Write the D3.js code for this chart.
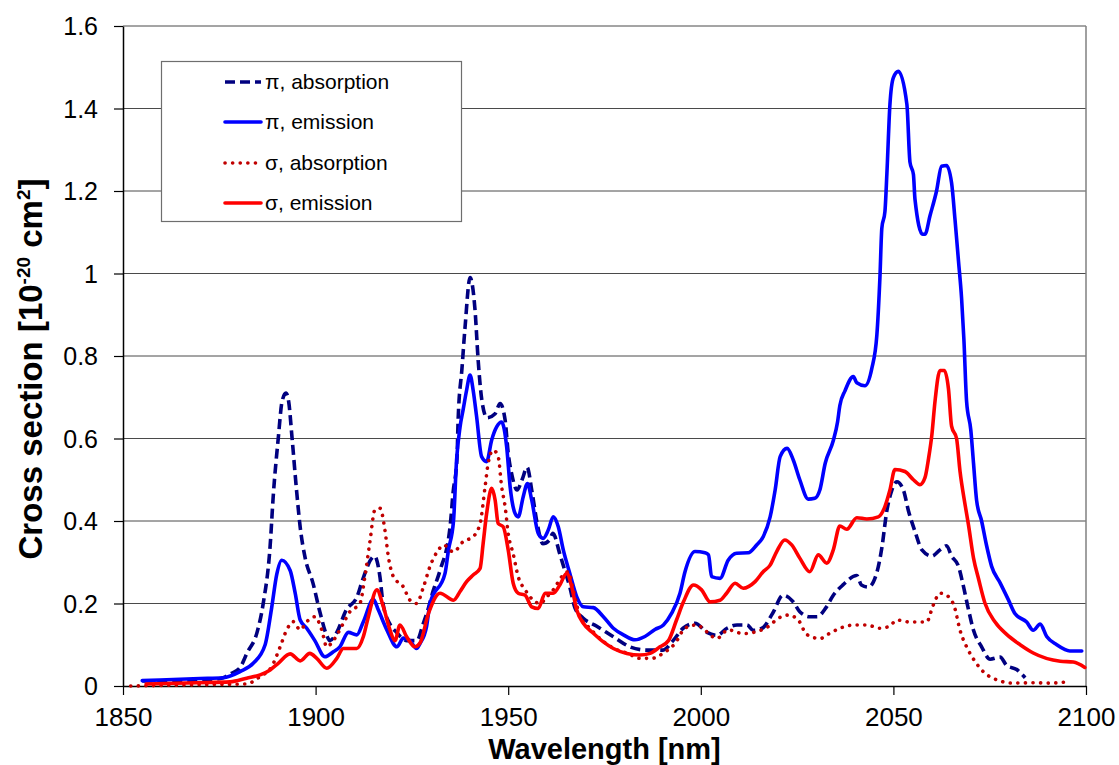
<!DOCTYPE html>
<html>
<head>
<meta charset="utf-8">
<script src="https://cdn.jsdelivr.net/npm/d3@7"></script>
<style>
  html, body { margin: 0; padding: 0; background: #fff; }
  svg { display: block; font-family: "Liberation Sans", Arial, sans-serif; }
</style>
</head>
<body>
<svg id="chart" width="1119" height="765"></svg>
<script>
// ---------- DATA ----------
const xTicks = [1850, 1900, 1950, 2000, 2050, 2100];
const yTicks = [0, 0.2, 0.4, 0.6, 0.8, 1.0, 1.2, 1.4, 1.6];
const yTickLabels = ["0", "0.2", "0.4", "0.6", "0.8", "1", "1.2", "1.4", "1.6"];
const seriesNames = ["\u03C0, absorption", "\u03C0, emission", "\u03C3, absorption", "\u03C3, emission"];

// pi absorption (dashed navy)
const piAbsX = [1855,1865,1872,1876,1878,1880.4,1882.2,1884.8,1886.4,1888.2,1889,1890.3,1891.3,1892.3,1893,1893.9,1895,1896,1897.3,1899.3,1901.1,1903,1903.7,1905.5,1908,1910.7,1912.3,1914.6,1915.3,1916.7,1917.5,1919.3,1921,1923.7,1926.3,1927.9,1929,1930.5,1932.3,1934.9,1935.7,1936.7,1937,1938,1938.8,1940.1,1941.4,1942.2,1943.2,1944.5,1946.6,1947.9,1949.2,1950,1951,1952.3,1953.6,1954.9,1956.2,1957.5,1959,1960.8,1961.6,1963.4,1964.7,1966,1967.3,1969.4,1973,1977.2,1981.6,1986,1990.2,1992.8,1995.4,1998.5,2001.6,2004.2,2006.8,2009.4,2012,2013.6,2015.9,2018.7,2021.3,2023.9,2025.7,2028.3,2030.2,2032.5,2034.4,2036.9,2040.5,2041.7,2043.5,2045.7,2047,2048.3,2049.6,2050.9,2052.6,2053.9,2055.6,2057.4,2060,2062.1,2063.8,2065.1,2066.9,2068.1,2069.5,2070.8,2072.9,2075.1,2077.7,2079.4,2082,2084.2];
const piAbsY = [0.012,0.013,0.015,0.02,0.03,0.045,0.08,0.13,0.20,0.34,0.46,0.60,0.69,0.71,0.69,0.60,0.48,0.385,0.31,0.25,0.18,0.12,0.11,0.13,0.185,0.215,0.26,0.31,0.315,0.265,0.20,0.15,0.13,0.11,0.11,0.15,0.18,0.23,0.28,0.385,0.47,0.55,0.645,0.77,0.87,0.99,0.91,0.79,0.69,0.65,0.66,0.685,0.645,0.565,0.51,0.475,0.50,0.53,0.47,0.395,0.345,0.355,0.37,0.32,0.28,0.24,0.19,0.165,0.145,0.12,0.095,0.087,0.087,0.11,0.14,0.152,0.13,0.123,0.14,0.148,0.148,0.135,0.14,0.177,0.22,0.205,0.18,0.168,0.168,0.19,0.22,0.245,0.268,0.245,0.24,0.275,0.335,0.425,0.475,0.495,0.475,0.425,0.375,0.33,0.315,0.33,0.34,0.315,0.29,0.245,0.185,0.135,0.095,0.065,0.07,0.05,0.04,0.02];

// pi emission (solid blue)
const piEmX = [1855,1870,1876,1880.4,1883.8,1886.9,1888.6,1889.9,1891.2,1893.4,1894.7,1896,1897.7,1899.8,1902.4,1904.6,1906.3,1908.5,1910.7,1912.4,1915,1916.3,1918.5,1921.1,1922.8,1924.5,1926.2,1927.1,1928.8,1929.7,1933.6,1934.5,1935.8,1936.6,1937.5,1938.3,1939.2,1940.1,1940.9,1941.8,1943.1,1944.4,1945.7,1947,1948.3,1949.6,1950.5,1951.8,1952.6,1953.9,1955,1956.1,1957.8,1959.1,1960.4,1961.7,1963,1964.3,1966,1967.8,1969.5,1972.1,1974.7,1977.3,1979.9,1982.9,1985.5,1988.1,1990.3,1992.4,1994.6,1995.9,1998.5,2001.1,2002,2002.8,2005,2007.1,2009.3,2012.3,2014.5,2016.2,2018,2019.3,2020.6,2022.4,2024,2025.7,2027.9,2029.6,2030.9,2032.3,2034.4,2035.5,2036.1,2037.4,2039.6,2040.5,2042.6,2044.4,2045.7,2046.5,2047,2047.8,2048.3,2049.1,2050,2051.3,2053.5,2054.3,2055.2,2055.6,2057.6,2058.2,2059.5,2061.2,2062.5,2063.8,2065.1,2066,2066.9,2067.7,2068.3,2069,2070.1,2070.8,2071.6,2072.9,2074.2,2075.5,2077.7,2079.8,2081.6,2084.6,2086.3,2088.1,2089.8,2092.4,2095.8,2098.9];
const piEmY = [0.013,0.018,0.02,0.035,0.055,0.10,0.19,0.27,0.305,0.28,0.225,0.16,0.14,0.11,0.071,0.083,0.095,0.13,0.124,0.156,0.21,0.184,0.136,0.095,0.116,0.11,0.091,0.103,0.144,0.20,0.273,0.33,0.40,0.548,0.628,0.67,0.717,0.754,0.717,0.653,0.556,0.544,0.596,0.628,0.64,0.58,0.483,0.418,0.41,0.459,0.491,0.451,0.37,0.358,0.378,0.41,0.386,0.33,0.273,0.216,0.192,0.19,0.168,0.14,0.124,0.112,0.12,0.137,0.148,0.176,0.225,0.277,0.326,0.323,0.318,0.265,0.261,0.305,0.322,0.323,0.342,0.362,0.41,0.475,0.556,0.576,0.548,0.50,0.453,0.455,0.475,0.54,0.595,0.64,0.68,0.715,0.75,0.735,0.728,0.77,0.85,0.99,1.11,1.15,1.24,1.41,1.475,1.49,1.41,1.27,1.24,1.18,1.095,1.095,1.14,1.20,1.26,1.262,1.22,1.13,1.03,0.94,0.84,0.69,0.62,0.54,0.45,0.40,0.34,0.29,0.25,0.21,0.175,0.155,0.135,0.15,0.12,0.10,0.085,0.085];

// sigma absorption (dotted dark red)
const sigAbsX = [1852,1870,1882,1885.6,1888.6,1890.8,1892.5,1894.2,1896,1897.7,1899.8,1901.6,1902.9,1904.6,1907.2,1908.9,1911.5,1912.8,1914.1,1915.4,1916.7,1918,1918.9,1920.2,1922.8,1924.5,1926.2,1928,1929.7,1931.9,1933.2,1935.8,1938.3,1940.9,1942.7,1944,1944.8,1946.1,1947.4,1948.3,1949.2,1950,1951.3,1952.6,1954.4,1956.5,1958.3,1960,1961.7,1963.9,1965.6,1966.9,1968.6,1971.2,1974.7,1978.2,1980.8,1984.2,1987.3,1990.3,1993.3,1995.9,1998.9,2001.5,2004.1,2007.1,2011,2014.5,2017.5,2020.1,2022.7,2025.3,2027.5,2030.9,2033.5,2036.1,2040,2043,2046.5,2049,2050.9,2054.3,2058.6,2060.3,2062.1,2063.8,2065.9,2067.3,2069,2070.8,2073.3,2076.8,2081.1,2086.3,2090.6,2095];
const sigAbsY = [0.0,0.003,0.005,0.023,0.047,0.095,0.136,0.156,0.136,0.156,0.168,0.136,0.095,0.11,0.152,0.18,0.20,0.265,0.35,0.427,0.431,0.378,0.313,0.265,0.24,0.208,0.20,0.24,0.29,0.33,0.342,0.325,0.35,0.362,0.394,0.483,0.54,0.572,0.556,0.483,0.435,0.37,0.32,0.265,0.233,0.208,0.20,0.216,0.233,0.265,0.277,0.233,0.17,0.14,0.108,0.088,0.08,0.067,0.067,0.08,0.103,0.14,0.148,0.132,0.115,0.136,0.127,0.132,0.144,0.164,0.172,0.16,0.125,0.115,0.128,0.14,0.148,0.148,0.14,0.145,0.16,0.155,0.155,0.195,0.225,0.22,0.19,0.135,0.095,0.065,0.035,0.015,0.007,0.008,0.007,0.01];

// sigma emission (solid red)
const sigEmX = [1856,1869,1877.8,1882.1,1885.6,1888.2,1890.3,1893.4,1896,1898.5,1900.3,1902.9,1905.5,1907.2,1910.7,1912.4,1913.7,1915.9,1917.6,1919.3,1920.6,1921.9,1923.6,1925.8,1927.1,1929.3,1932.3,1935.8,1937.5,1939.2,1940.9,1942.7,1943.5,1944.4,1945.7,1946.6,1947.4,1948.7,1950,1951.3,1952.6,1954.4,1956.1,1957.8,1959.6,1961.7,1963.4,1965.2,1966.5,1967.8,1969.5,1972.1,1974.7,1977.3,1980.8,1984.2,1986.8,1989.4,1991.6,1993.7,1995.5,1998.1,2000.2,2002.4,2005,2006.7,2008.9,2011,2014.1,2016.2,2018,2019.7,2021.8,2023.6,2025.7,2028.3,2030.5,2032.7,2034.4,2036.1,2037.9,2040.5,2043.1,2046.1,2047.8,2049.1,2050.4,2053,2055.2,2056.9,2058.2,2059.1,2060,2060.8,2062.1,2063.2,2064.3,2065.1,2066.4,2067.3,2068.6,2069.5,2070.8,2072.1,2073.8,2076.4,2079.4,2082.9,2086.3,2093.3,2096.7,2099.7];
const sigEmY = [0.005,0.008,0.01,0.019,0.027,0.039,0.055,0.078,0.061,0.079,0.067,0.043,0.067,0.091,0.091,0.12,0.168,0.233,0.192,0.136,0.11,0.148,0.12,0.095,0.104,0.176,0.225,0.208,0.229,0.253,0.269,0.285,0.346,0.418,0.479,0.451,0.394,0.386,0.33,0.249,0.225,0.22,0.192,0.188,0.225,0.225,0.245,0.273,0.24,0.184,0.152,0.128,0.107,0.091,0.079,0.075,0.079,0.095,0.11,0.16,0.204,0.245,0.233,0.204,0.208,0.225,0.249,0.237,0.253,0.277,0.293,0.326,0.354,0.342,0.31,0.277,0.318,0.298,0.33,0.388,0.38,0.408,0.405,0.41,0.435,0.475,0.525,0.52,0.50,0.488,0.505,0.55,0.61,0.69,0.765,0.765,0.72,0.63,0.60,0.52,0.44,0.39,0.31,0.26,0.20,0.155,0.125,0.10,0.08,0.06,0.058,0.045];

// ---------- CHART ----------
const svg = d3.select("#chart");
const m = { left: 123, right: 1086, top: 26, bottom: 686 };

const x = d3.scaleLinear().domain([1850, 2100]).range([m.left, m.right]);
const y = d3.scaleLinear().domain([0, 1.6]).range([m.bottom, m.top]);

// gridlines
svg.append("g").selectAll("line")
  .data(yTicks.filter(d => d > 0))
  .join("line")
  .attr("x1", m.left).attr("x2", m.right)
  .attr("y1", d => y(d)).attr("y2", d => y(d))
  .attr("stroke", "#4a4a4a").attr("stroke-width", 1);

// right border of plot area
svg.append("line")
  .attr("x1", m.right).attr("x2", m.right)
  .attr("y1", m.top).attr("y2", m.bottom)
  .attr("stroke", "#808080").attr("stroke-width", 1.5);

// axes
const xAxis = d3.axisBottom(x).tickValues(xTicks).tickSize(9).tickSizeOuter(0).tickFormat(d3.format("d"));
const gx = svg.append("g").attr("transform", `translate(0,${m.bottom})`).call(xAxis);
gx.select(".domain").attr("stroke", "#000").attr("stroke-width", 1.5);
gx.selectAll(".tick line").attr("stroke", "#000").attr("stroke-width", 1.2);
gx.selectAll(".tick text")
  .attr("y", 40).attr("dy", 0)
  .attr("font-size", 26).attr("fill", "#000")
  .attr("font-family", "'Liberation Sans', Arial, sans-serif");

const yAxis = d3.axisLeft(y).tickValues(yTicks).tickSize(9).tickSizeOuter(0)
  .tickFormat((d, i) => yTickLabels[i]);
const gy = svg.append("g").attr("transform", `translate(${m.left},0)`).call(yAxis);
gy.select(".domain").attr("stroke", "#000").attr("stroke-width", 1.5);
gy.selectAll(".tick line").attr("stroke", "#000").attr("stroke-width", 1.2);
gy.selectAll(".tick text")
  .attr("x", -25).attr("dy", "0.35em")
  .attr("font-size", 25).attr("fill", "#000")
  .attr("font-family", "'Liberation Sans', Arial, sans-serif");

// series
const series = [
  { name: seriesNames[0], xs: piAbsX, ys: piAbsY, color: "#000080", dash: "10,5", cap: "butt" },
  { name: seriesNames[1], xs: piEmX, ys: piEmY, color: "#0000FF", dash: null, cap: "round" },
  { name: seriesNames[2], xs: sigAbsX, ys: sigAbsY, color: "#C00000", dash: "0.1,7.5", cap: "round" },
  { name: seriesNames[3], xs: sigEmX, ys: sigEmY, color: "#FF0000", dash: null, cap: "round" }
];

const line = d3.line().x(d => x(d[0])).y(d => y(d[1])).curve(d3.curveMonotoneX);

const plot = svg.append("g");
series.forEach(s => {
  const pts = s.xs.map((v, i) => [v, s.ys[i]]);
  plot.append("path")
    .datum(pts)
    .attr("d", line)
    .attr("fill", "none")
    .attr("stroke", s.color)
    .attr("stroke-width", 3.6)
    .attr("stroke-linejoin", "round")
    .attr("stroke-linecap", s.cap)
    .attr("stroke-dasharray", s.dash);
});

// legend
const lg = svg.append("g");
lg.append("rect")
  .attr("x", 161.5).attr("y", 61.5).attr("width", 300).attr("height", 160)
  .attr("fill", "#fff").attr("stroke", "#6e6e6e").attr("stroke-width", 1.2);
const rowY = [82, 122, 163, 203];
series.forEach((s, i) => {
  lg.append("line")
    .attr("x1", 225).attr("x2", 261)
    .attr("y1", rowY[i]).attr("y2", rowY[i])
    .attr("stroke", s.color).attr("stroke-width", 3.6)
    .attr("stroke-linecap", s.cap)
    .attr("stroke-dasharray", s.dash);
  lg.append("text")
    .attr("x", 265).attr("y", rowY[i]).attr("dy", "0.35em")
    .attr("font-size", 21).attr("fill", "#000")
    .text(s.name);
});

// axis titles
svg.append("text")
  .attr("x", (m.left + m.right) / 2).attr("y", 759)
  .attr("text-anchor", "middle")
  .attr("font-size", 29).attr("font-weight", "bold")
  .text("Wavelength [nm]");

const yt = svg.append("text")
  .attr("transform", "translate(42,369) rotate(-90)")
  .attr("text-anchor", "middle")
  .attr("font-size", 33).attr("font-weight", "bold");
yt.append("tspan").text("Cross section [10");
yt.append("tspan").attr("font-size", 19).attr("dy", -12).text("-20");
yt.append("tspan").attr("dy", 12).text(" cm");
yt.append("tspan").attr("font-size", 19).attr("dy", -12).text("2");
yt.append("tspan").attr("dy", 12).text("]");
</script>
</body>
</html>
